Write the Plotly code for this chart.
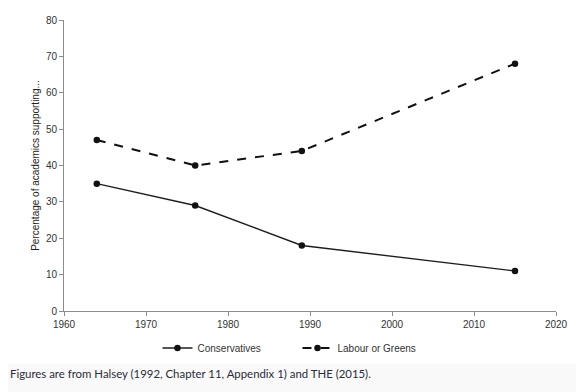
import plotly.graph_objects as go

years = [1964, 1976, 1989, 2015]
conservatives = [35, 29, 18, 11]
labour_greens = [47, 40, 44, 68]
x_ticks = [1960, 1970, 1980, 1990, 2000, 2010, 2020]
y_ticks = [0, 10, 20, 30, 40, 50, 60, 70, 80]

fig = go.Figure()
fig.add_trace(go.Scatter(
    x=years, y=conservatives, name="Conservatives", mode="lines+markers",
    line=dict(color="#1e1e1e", width=1.4),
    marker=dict(color="#111", size=6.5),
))
fig.add_trace(go.Scatter(
    x=years, y=labour_greens, name="Labour or Greens", mode="lines+markers",
    line=dict(color="#111", width=2, dash="dash"),
    marker=dict(color="#111", size=6.5),
))

axis_font = dict(family="Liberation Sans, Arial, sans-serif", size=10, color="#333")

# page body has a default 8px margin, so the figure is sized to fit inside the window
fig.update_layout(
    width=576, height=384,
    margin=dict(l=56, r=28, t=12, b=81, autoexpand=False),
    paper_bgcolor="white", plot_bgcolor="white",
    showlegend=True,
    legend=dict(orientation="h", x=0.19, xanchor="left", y=-0.127, yanchor="middle",
                font=dict(family="Liberation Sans, Arial, sans-serif", size=10, color="#333"),
                itemwidth=30, entrywidth=95, entrywidthmode="pixels",
                bgcolor="rgba(0,0,0,0)"),
    xaxis=dict(range=[1960, 2020], tickvals=x_ticks, showgrid=False, zeroline=False,
               showline=True, linecolor="#8c8c8c", linewidth=1, automargin=False,
               ticks="outside", ticklen=4, tickcolor="#8c8c8c", tickfont=axis_font),
    yaxis=dict(range=[0, 80], tickvals=y_ticks, showgrid=False, zeroline=False,
               showline=True, linecolor="#8c8c8c", linewidth=1, automargin=False,
               ticks="outside", ticklen=4, tickcolor="#8c8c8c", tickfont=axis_font,
               title=dict(text="Percentage of academics supporting...",
                          font=dict(family="Liberation Sans, Arial, sans-serif", size=10, color="#222"),
                          standoff=4)),
    shapes=[dict(type="rect", xref="paper", yref="paper", x0=-0.2, x1=1.1,
                 y0=-0.18, y1=-0.3, fillcolor="#f9f9f9", line=dict(width=0), layer="below")],
    annotations=[dict(text="Figures are from Halsey (1992, Chapter 11, Appendix 1) and THE (2015).",
                      xref="paper", yref="paper", x=-0.114, y=-0.216,
                      xanchor="left", yanchor="middle", showarrow=False,
                      font=dict(family="Lato, Open Sans, sans-serif", size=11.4, color="#2b2b3a"))],
)

fig.write_html("out.html")
